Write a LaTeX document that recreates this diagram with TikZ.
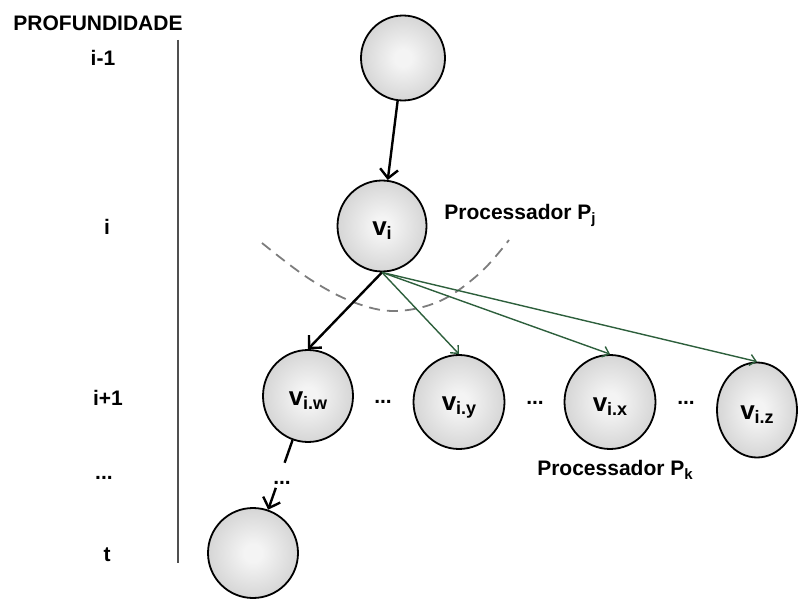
\documentclass[tikz,border=0pt]{standalone}
\usepackage{fontspec}
\setmainfont{Liberation Sans}
\usetikzlibrary{arrows.meta,shapes.geometric,calc}

\definecolor{ballcenter}{RGB}{244,244,244}
\definecolor{balledge}{RGB}{176,176,176}
\definecolor{linkgreen}{RGB}{45,95,60}
\definecolor{arcgray}{RGB}{125,125,125}
\definecolor{axisgray}{RGB}{80,80,80}

% soft sphere-like fill for the tree vertices
\pgfdeclareradialshading{ballshade}{\pgfpoint{0bp}{0bp}}{%
  color(0bp)=(ballcenter); color(5bp)=(ballcenter);
  color(50bp)=(balledge); color(72bp)=(balledge)}

% vertex name: bold v with a lowered index
\newcommand\vname[1]{{\fontsize{26}{26}\selectfont v}\raisebox{-4pt}{\fontsize{18}{18}\selectfont #1}}
\newcommand\procname[1]{Processador P\raisebox{-4pt}{\fontsize{15}{15}\selectfont #1}}

\begin{document}
\begin{tikzpicture}[x=1pt,y=-1pt,
  ball/.style={ellipse, draw=black, line width=1.8pt, shading=ballshade,
    inner sep=0pt},
  vtxt/.style={font=\bfseries, inner sep=0pt, yshift=-5pt},
  txt/.style={font=\fontsize{21}{21}\selectfont\bfseries, inner sep=0pt},
  treeedge/.style={line width=2.4pt, black},
  treearrow/.style={treeedge, -{Straight Barb[length=9pt,width=18pt]}},
  fanarrow/.style={draw=linkgreen, line width=1.4pt,
    -{Straight Barb[length=6pt,width=11pt]}},
  depthaxis/.style={draw=axisgray, line width=1.8pt},
  cut/.style={draw=arcgray, line width=1.8pt, dash pattern=on 11pt off 7pt}
]
\useasboundingbox (0,0) rectangle (798,599);

% depth scale on the left
\node[txt] (depth) at (98,23) {PROFUNDIDADE};
\node[txt] (dprev) at (103,58) {i-1};
\node[txt] (dcur)  at (107,227) {i};
\node[txt] (dnext) at (108,398) {i+1};
\node[txt] (ddots) at (104,478) {...};
\node[txt] (dlast) at (107,555) {t};
\coordinate (axtop) at (178,40);
\coordinate (axbot) at (178,563);
\draw[depthaxis] (axtop) -- (axbot);

% boundary of the work kept by processor P_j
\draw[cut] plot[smooth, tension=0.6] coordinates
  {(262,243) (308,278) (353,302) (395,311) (440,301) (480,273) (509,240)};

% vertices
\node[ball, minimum width=84pt, minimum height=85pt] (top) at (403,58) {};
\node[ball, minimum width=89pt, minimum height=91pt] (vi)  at (382,226) {};
\node[ball, minimum width=90pt, minimum height=92pt] (viw) at (308,396) {};
\node[ball, minimum width=91pt, minimum height=94pt] (viy) at (459,402) {};
\node[ball, minimum width=91pt, minimum height=94pt] (vix) at (610,402) {};
\node[ball, minimum width=80pt, minimum height=95pt] (viz) at (757,410) {};
\node[ball, minimum width=90pt, minimum height=90pt] (bot) at (253,553) {};

% vertex names
\node[vtxt] (vi-name)  at (vi.center)  {\vname{i}};
\node[vtxt] (viw-name) at (viw.center) {\vname{i.w}};
\node[vtxt] (viy-name) at (viy.center) {\vname{i.y}};
\node[vtxt] (vix-name) at (vix.center) {\vname{i.x}};
\node[vtxt] (viz-name) at (viz.center) {\vname{i.z}};

% elided siblings and labels
\node[txt] (dots1) at (383,402) {...};
\node[txt] (dots2) at (535,403) {...};
\node[txt] (dots3) at (686,403) {...};
\node[txt] (dots4) at (282,483) {...};
\node[txt] (pj) at (520,215) {\procname{j}};
\node[txt] (pk) at (615,470) {\procname{k}};

% tree edges
\draw[treearrow] (top) -- (vi);
\draw[treearrow] (vi.south) -- (viw.north);
\draw[treeedge] (viw) -- ($(viw)!0.425!(bot)$);
\draw[treearrow] ($(viw)!0.585!(bot)$) -- (bot);

% children handed to processor P_k
\draw[fanarrow] (vi.south) -- (viy.north);
\draw[fanarrow] (vi.south) -- (vix.north);
\draw[fanarrow] (vi.south) -- (viz.north);
\end{tikzpicture}
\end{document}
